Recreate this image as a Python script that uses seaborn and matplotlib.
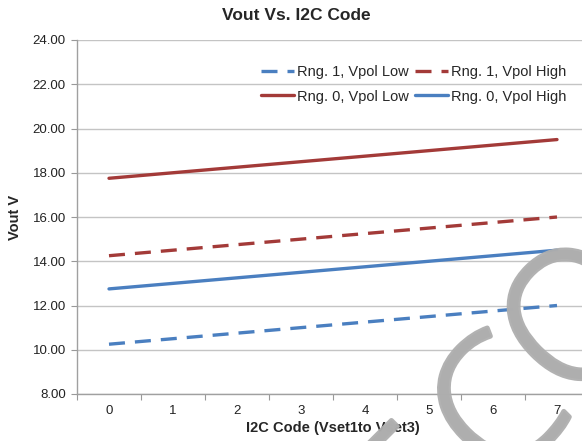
import numpy as np
import pandas as pd
import seaborn as sns
import matplotlib.pyplot as plt
import matplotlib.patheffects as pe

# Chart data
codes = [0, 1, 2, 3, 4, 5, 6, 7]
rng1_vpol_low = [10.25, 10.50, 10.75, 11.00, 11.25, 11.50, 11.75, 12.00]
rng1_vpol_high = [14.25, 14.50, 14.75, 15.00, 15.25, 15.50, 15.75, 16.00]
rng0_vpol_low = [17.75, 18.00, 18.25, 18.50, 18.75, 19.00, 19.25, 19.50]
rng0_vpol_high = [12.75, 13.00, 13.25, 13.50, 13.75, 14.00, 14.25, 14.50]
y_ticks = [8, 10, 12, 14, 16, 18, 20, 22, 24]

RED = '#A33A38'
BLUE = '#4A7FC0'

sns.set_style('white')
plt.rcParams['font.family'] = ['Liberation Sans', 'DejaVu Sans']

fig = plt.figure(figsize=(5.82, 4.41), dpi=100)
ax = fig.add_axes([77 / 582, 47 / 441, 512 / 582, 354 / 441])

dash = (0, (4.8, 3.0))
series = [
    ('Rng. 1, Vpol Low', rng1_vpol_low, BLUE, dash),
    ('Rng. 0, Vpol Low', rng0_vpol_low, RED, '-'),
    ('Rng. 1, Vpol High', rng1_vpol_high, RED, dash),
    ('Rng. 0, Vpol High', rng0_vpol_high, BLUE, '-'),
]
for name, vals, col, ls in series:
    df = pd.DataFrame({'code': codes, 'vout': vals})
    sns.lineplot(data=df, x='code', y='vout', ax=ax, color=col, linestyle=ls,
                 linewidth=2.4, label=name)

ax.set_xlim(-0.5, 7.5)
ax.set_ylim(8, 24)
ax.set_yticks(y_ticks)
ax.set_yticklabels([f'{v:.2f}' for v in y_ticks])
ax.set_xticks(codes)
ax.set_xticks(np.arange(-0.5, 8.0, 1.0), minor=True)
ax.tick_params(axis='x', which='major', length=0, pad=8, labelsize=9.5, labelcolor='#222222')
ax.tick_params(axis='x', which='minor', length=4, width=0.8, color='#999999', direction='out', bottom=True)
ax.tick_params(axis='y', length=4, width=0.8, color='#999999', direction='out', left=True,
               labelsize=9.5, labelcolor='#222222', pad=4)
ax.yaxis.grid(True, color='#C4C4C4', linewidth=1.0)
ax.set_axisbelow(True)
for s in ['top', 'right']:
    ax.spines[s].set_visible(False)
for s in ['left', 'bottom']:
    ax.spines[s].set_color('#A0A0A0')
    ax.spines[s].set_linewidth(1.0)

ax.set_xlabel('I2C Code (Vset1to Vset3)', fontsize=10.5, fontweight='bold', labelpad=3)
ax.set_ylabel('Vout V', fontsize=10.5, fontweight='bold', labelpad=8)

fig.text(296 / 582, 1 - 15 / 441, 'Vout Vs. I2C Code', ha='center', va='center',
         fontsize=12.5, fontweight='bold')

ax.legend(loc='upper left', bbox_to_anchor=(254 / 582, 1 - 58 / 441),
          bbox_transform=fig.transFigure, ncol=2, frameon=False, fontsize=10.5,
          handlelength=2.25, handletextpad=0.2, columnspacing=0.45,
          labelspacing=0.7, borderpad=0)

# faint watermark letters partly visible at the lower right
wm = dict(fontsize=130, color='#AEAEAE', rotation=45, ha='center', va='center',
          rotation_mode='anchor', alpha=0.95, zorder=10,
          family=['Open Sans', 'Liberation Sans'], fontweight='light',
          path_effects=[pe.withStroke(linewidth=3.5, foreground='#AEAEAE')])
fig.text(506 / 582, 1 - 418 / 441, 'C', **wm)
fig.text(586 / 582, 1 - 327 / 441, 'O', **wm)
fig.text(422 / 582, 1 - 506 / 441, 'E', **wm)

fig.savefig('out.png', dpi=100)
